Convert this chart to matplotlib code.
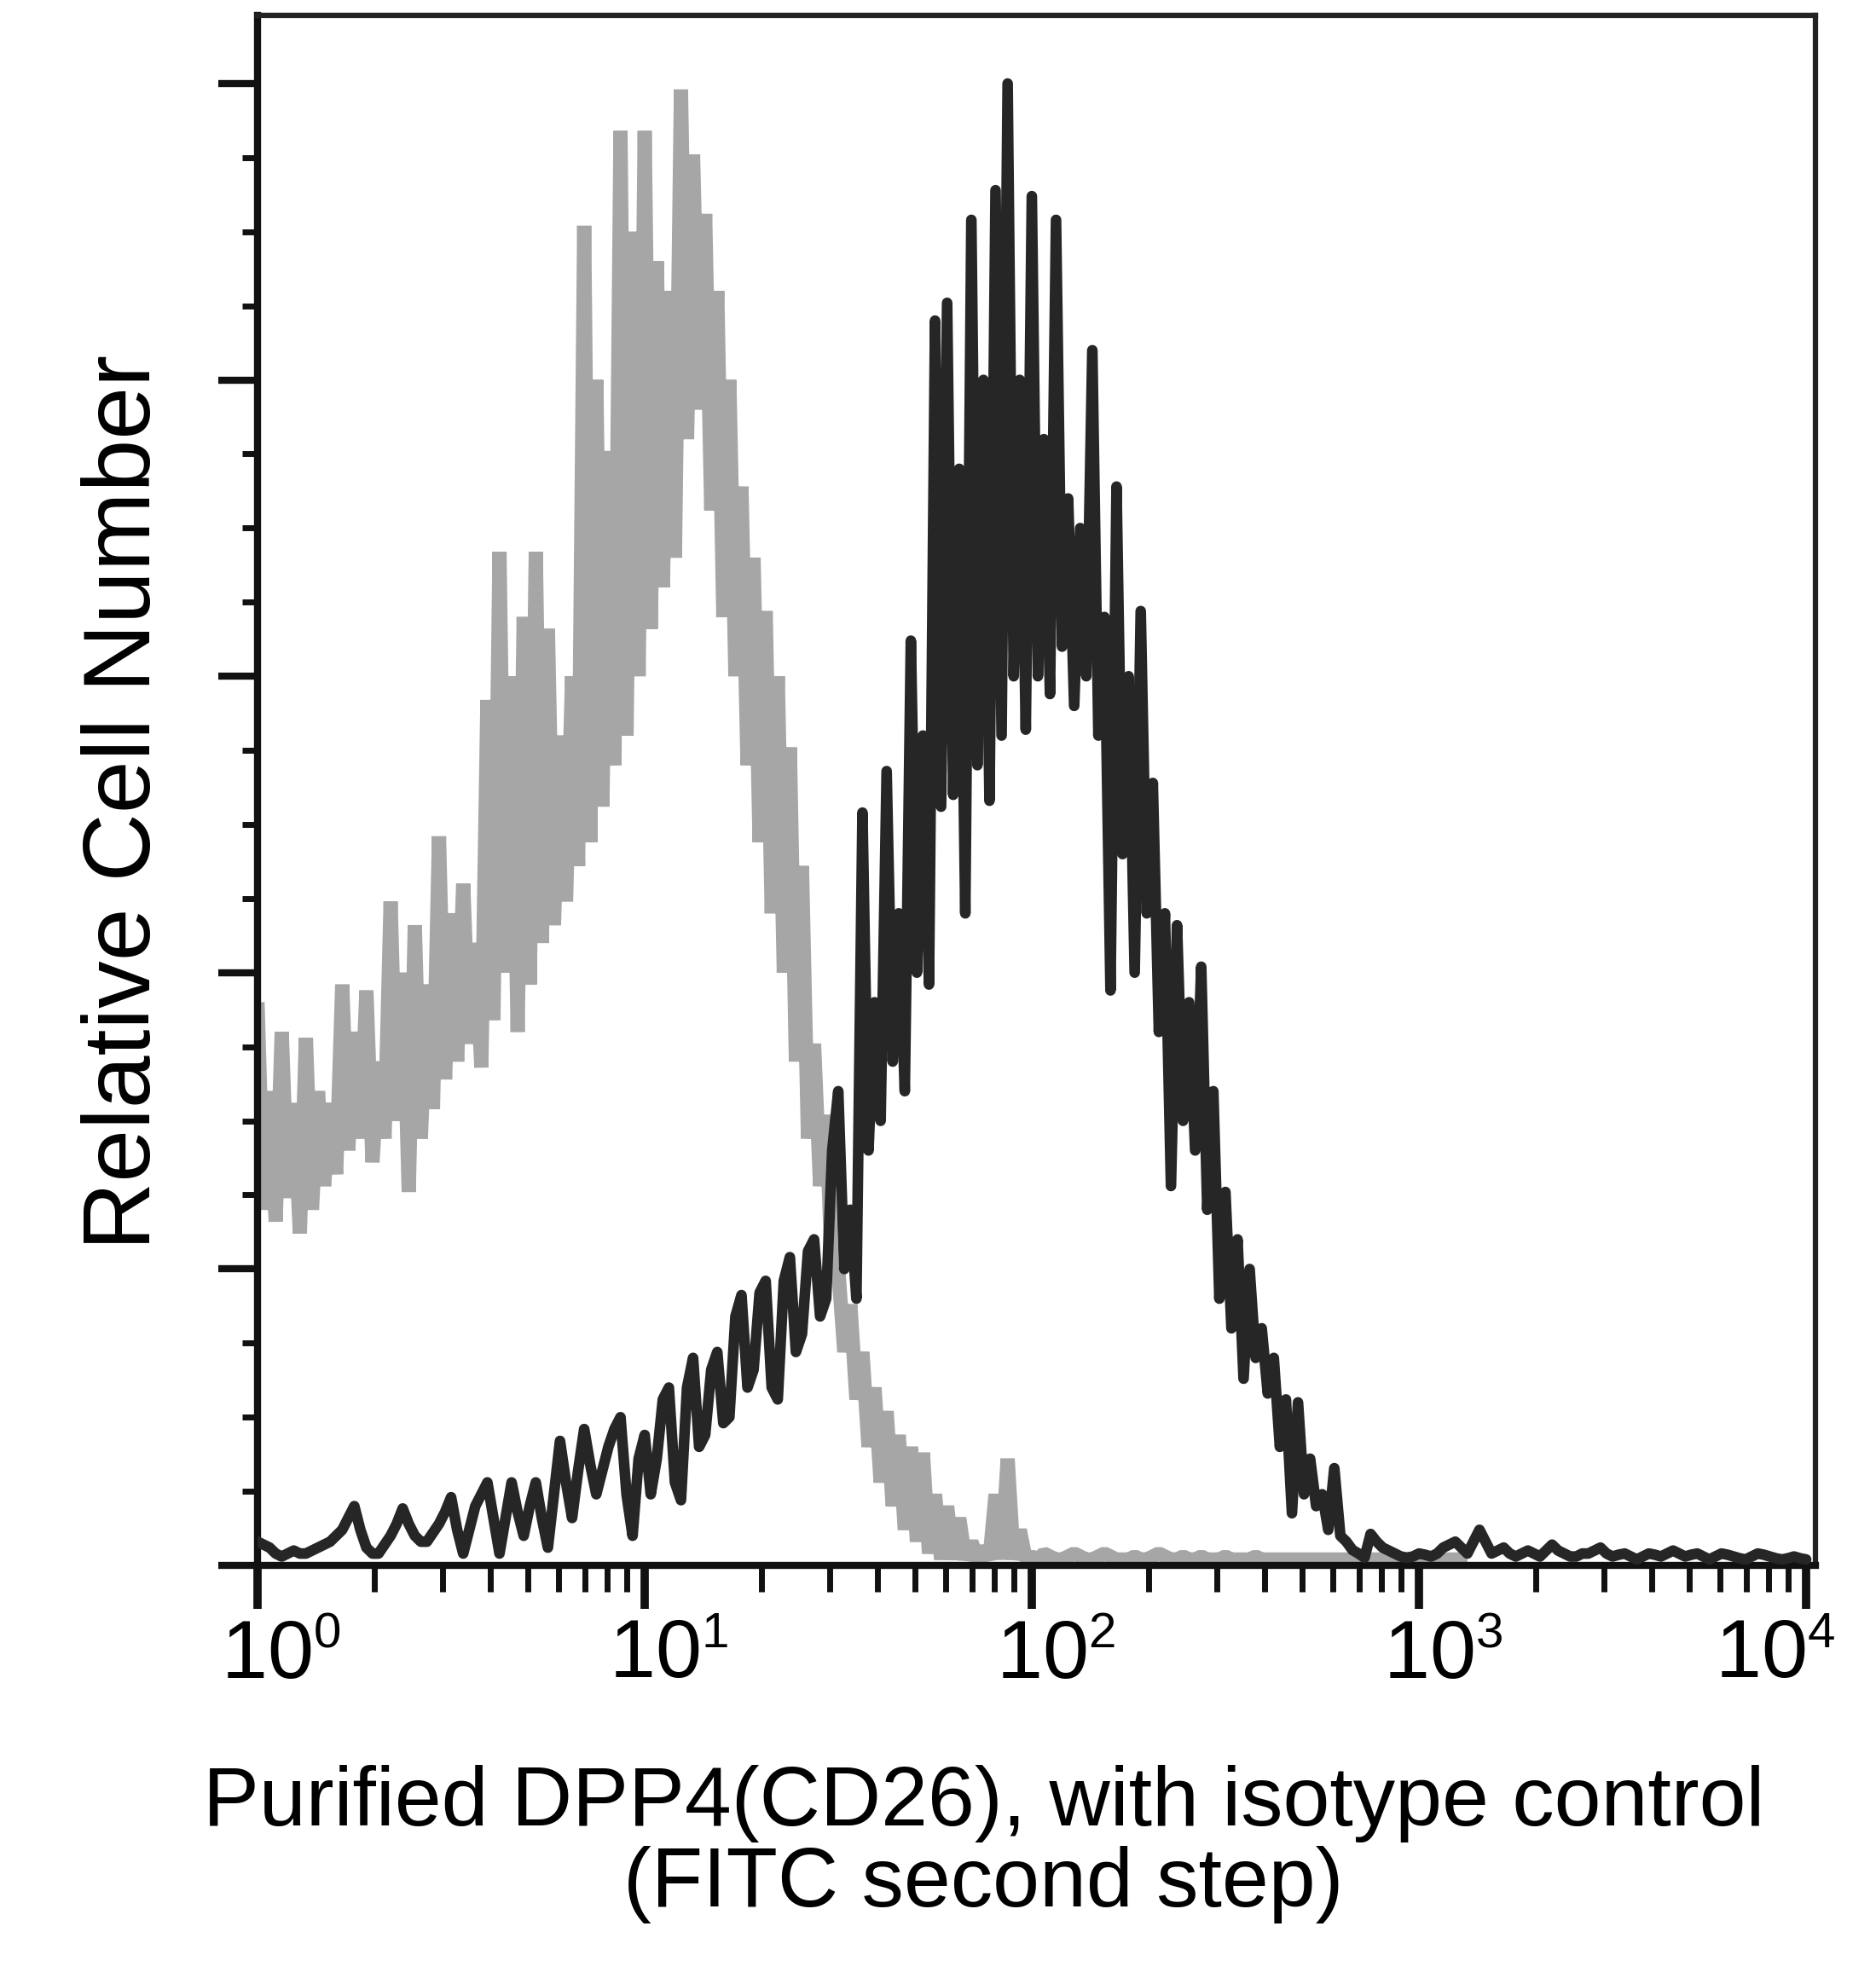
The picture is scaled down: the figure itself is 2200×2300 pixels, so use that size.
import numpy as np
import matplotlib
matplotlib.use("Agg")
import matplotlib.pyplot as plt
from matplotlib.ticker import LogLocator, NullFormatter, FixedLocator, MultipleLocator
from matplotlib.transforms import ScaledTranslation

try:
    import matplotlib._mathtext as _mt
    _mt.SHRINK_FACTOR = 0.6
except Exception:
    pass

plt.rcParams['font.family'] = ['Liberation Sans', 'DejaVu Sans']
plt.rcParams['mathtext.fontset'] = 'custom'
plt.rcParams['mathtext.rm'] = 'Liberation Sans'
plt.rcParams['mathtext.it'] = 'Liberation Sans:italic'
plt.rcParams['mathtext.bf'] = 'Liberation Sans:bold'

# ---- data: 256-channel log histogram, 64 channels per decade ----
channels_per_decade = 64

isotype_counts = [
    95, 60, 80, 58, 90, 62, 78, 56, 89, 60,
    80, 64, 78, 66, 98, 70, 90, 72, 97, 68,
    85, 72, 112, 75, 100, 63, 108, 72, 98, 77,
    123, 82, 110, 85, 115, 88, 105, 84, 146, 92,
    171, 100, 150, 90, 160, 98, 171, 105, 158, 108,
    140, 112, 150, 118, 226, 122, 200, 128, 188, 135,
    242, 140, 225, 150, 242, 158, 220, 165, 215, 170,
    249, 190, 238, 195, 228, 178, 215, 160, 200, 150,
    182, 135, 170, 122, 161, 110, 150, 100, 138, 85,
    118, 72, 88, 64, 76, 48, 50, 36, 44, 28,
    36, 20, 30, 14, 26, 10, 22, 6, 20, 4,
    19, 2, 12, 1, 10, 1, 8, 1, 4, 1,
    3, 1, 12, 1, 18, 1, 6, 1,
    1.5, 1, 2, 1.5, 1, 1, 1.5, 2, 1.5, 1,
    1, 1.5, 2, 1.5, 1, 1, 1, 1.5, 1, 1,
    1.5, 2, 1.5, 1, 1, 1.5, 1, 1, 1.5, 1,
    1, 1, 1.5, 1, 1, 1, 1, 1.5, 1, 1,
    1, 1, 1, 1, 1, 1, 1, 1, 1, 1,
    1, 1, 1, 1, 1, 1, 1, 1, 1, 1,
    1, 1, 1, 1, 1, 1, 1, 1, 1, 1,
    1, 1, 1,
]

dpp4_counts = [
    4, 3.5, 3, 2, 1.5, 2, 2.5, 2, 2, 2.5,
    3, 3.5, 4, 5, 6, 8, 10, 6, 3, 2,
    2, 3.5, 5, 7, 9.6, 7, 5, 4, 4, 5.5,
    7, 9, 11.5, 6, 2, 6, 10, 12, 14, 8,
    2, 8, 14, 9, 5, 10, 14, 8, 3, 12,
    21, 14, 8, 16, 23, 17, 12, 16, 20, 23,
    25, 12, 5, 18, 22, 12, 18, 28, 30, 14,
    11, 30, 35, 20, 22, 33, 36, 24, 25, 42,
    45.6, 30, 33, 46, 48, 30, 28, 48, 52, 36,
    39, 53, 55, 42, 45, 70,
    80, 50, 60, 45, 127, 70, 95, 75, 134, 85,
    110, 80, 156, 100, 140, 98, 210, 128, 213, 130,
    185, 110, 227, 135, 200, 129, 232, 140, 250, 150,
    200, 141, 231, 150, 190, 147, 227, 155, 180, 145,
    175, 150, 205, 140, 160, 97, 182, 120, 150, 100,
    161, 110, 132, 90, 110, 64, 108, 75, 95, 70,
    101, 60, 80, 45, 63, 40, 55, 31.5, 50, 35,
    40, 29, 35, 20, 28, 8.8, 27.5, 12, 18, 10,
    12, 6, 16.4, 5, 4, 2.6, 2, 1.3,
    5.3, 4, 3, 2.5, 2, 1.5, 1.3, 1.5, 2, 1.8,
    1.5, 2, 3, 3.5, 4, 3, 2, 4, 6, 4,
    2, 2.5, 3, 2, 1.5, 2, 2.5, 2, 1.5, 2.5,
    3.5, 2.5, 2, 1.5, 1.5, 2, 2, 2.5, 3, 2,
    1.5, 1.8, 2, 1.5, 1, 1.5, 2, 1.8, 1.5, 2,
    2.5, 2, 1.5, 1.8, 2, 1.5, 1, 1.5, 2, 1.8,
    1.5, 1.2, 1, 1.5, 2, 1.8, 1.5, 1.2, 1, 1.2,
    1.5, 1.2, 1,
]

decade_ticks = [1, 10, 100, 1000, 10000]
decade_labels = [r'$\mathregular{10^{0}}$', r'$\mathregular{10^{1}}$',
                 r'$\mathregular{10^{2}}$', r'$\mathregular{10^{3}}$',
                 r'$\mathregular{10^{4}}$']
y_major = [0, 50, 100, 150, 200, 250]

xlabel_line1 = "Purified DPP4(CD26), with isotype control"
xlabel_line2 = "(FITC second step)"
ylabel_text = "Relative Cell Number"

iso_x = 10 ** (np.arange(len(isotype_counts)) / channels_per_decade)
dpp_x = 10 ** (np.arange(len(dpp4_counts)) / channels_per_decade)

# ---- figure ----
fig = plt.figure(figsize=(22, 23), dpi=100)
ax = fig.add_axes([0.13727, 0.20174, 0.83045, 0.79043])

ax.plot(iso_x, isotype_counts, color='#a6a6a6', lw=12,
        solid_joinstyle='bevel', solid_capstyle='butt', zorder=2)
ax.plot(dpp_x, dpp4_counts, color='#262626', lw=9,
        solid_joinstyle='round', solid_capstyle='round', zorder=3)

ax.set_xscale('log')
ax.set_xlim(1, 10 ** 4.024)
ax.set_ylim(0, 261.5)

ax.xaxis.set_major_locator(FixedLocator(decade_ticks))
ax.set_xticklabels(decade_labels)
ax.xaxis.set_minor_locator(LogLocator(base=10, subs=np.arange(2, 10)))
ax.xaxis.set_minor_formatter(NullFormatter())

ax.yaxis.set_major_locator(FixedLocator(y_major))
ax.yaxis.set_minor_locator(MultipleLocator(12.5))
ax.set_yticklabels([])

ax.tick_params(axis='x', which='major', direction='out', length=37, width=7,
               pad=8, labelsize=70, color='#111111')
ax.tick_params(axis='x', which='minor', direction='out', length=22, width=5,
               color='#111111')
ax.tick_params(axis='y', which='major', direction='out', length=33, width=6,
               color='#111111')
ax.tick_params(axis='y', which='minor', direction='out', length=13, width=5,
               color='#111111')
ax.tick_params(top=False, right=False, which='both')

for side in ['left', 'bottom']:
    ax.spines[side].set_linewidth(6)
    ax.spines[side].set_color('#111111')
for side in ['top', 'right']:
    ax.spines[side].set_linewidth(4.5)
    ax.spines[side].set_color('#222222')

labels = ax.get_xticklabels()
for k, lab in enumerate(labels):
    dx = 0.28 if k < len(labels) - 1 else -0.36
    lab.set_transform(lab.get_transform() + ScaledTranslation(dx, 0, fig.dpi_scale_trans))

fig.text(0.0668, 0.591, ylabel_text, rotation=90, fontsize=80,
         ha='center', va='center')
fig.text(0.5243, 0.0691, xlabel_line1, fontsize=71, ha='center', va='baseline')
fig.text(0.5243, 0.0278, xlabel_line2, fontsize=71, ha='center', va='baseline')

fig.savefig('out.png', dpi=100)
